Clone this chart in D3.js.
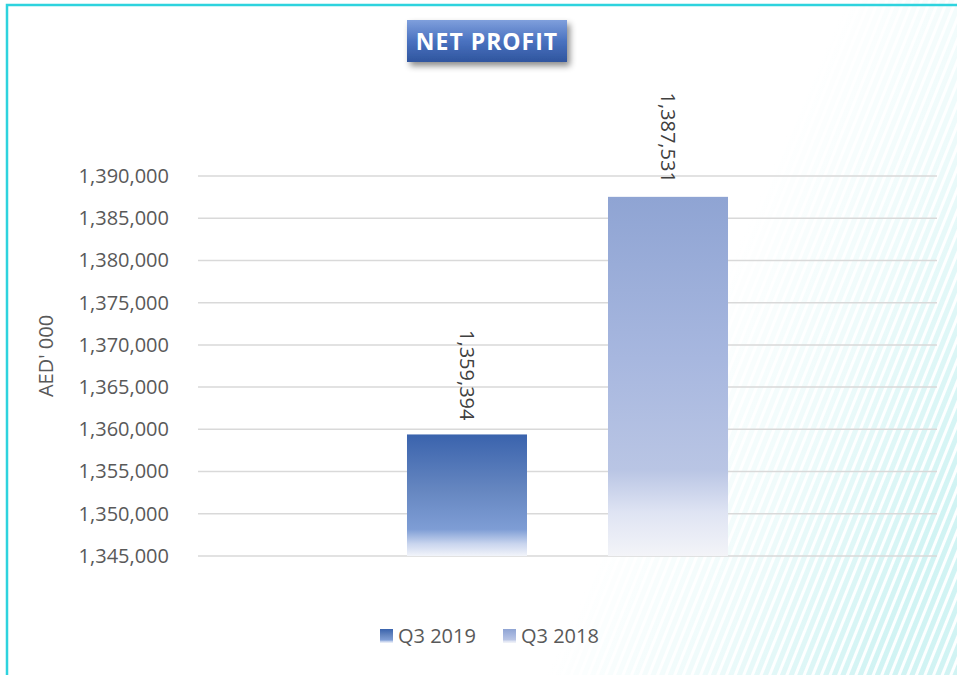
<!DOCTYPE html>
<html>
<head>
<meta charset="utf-8">
<script src="https://cdn.jsdelivr.net/npm/d3@7"></script>
<style>
  body { margin: 0; background: #fff; }
  svg { display: block; font-family: "Open Sans", "Noto Sans", sans-serif; }
</style>
</head>
<body>
<div id="chart"></div>
<script>
// chart data
var categories = ["Net Profit"];
var seriesNames = ["Q3 2019", "Q3 2018"];
var seriesValues = [1359394, 1387531];
var yTicks = [1345000, 1350000, 1355000, 1360000, 1365000, 1370000, 1375000, 1380000, 1385000, 1390000];
var titleText = "NET PROFIT";
var yLabel = "AED' 000";

var W = 957, H = 675;
var margin = {top: 176, right: 20, bottom: 119, left: 198};
var width = W - margin.left - margin.right,
    height = H - margin.top - margin.bottom;

var svg = d3.select("#chart").append("svg")
    .attr("width", W)
    .attr("height", H);

var defs = svg.append("defs");

// striped background in the lower right corner
var pat = defs.append("pattern")
    .attr("id", "stripes")
    .attr("patternUnits", "userSpaceOnUse")
    .attr("width", 8).attr("height", 8)
    .attr("patternTransform", "rotate(22)");
pat.append("rect").attr("width", 8).attr("height", 8).attr("fill", "#fdffff");
pat.append("rect").attr("width", 5).attr("height", 8).attr("fill", "#cff3f3");

// white veil over the stripes, fading out toward the corner
var fade = defs.append("linearGradient")
    .attr("id", "fade")
    .attr("gradientUnits", "userSpaceOnUse")
    .attr("x1", 700).attr("y1", 330)
    .attr("x2", 970).attr("y2", 450);
fade.append("stop").attr("offset", "0").attr("stop-color", "#fff").attr("stop-opacity", 1);
fade.append("stop").attr("offset", "0.5").attr("stop-color", "#fff").attr("stop-opacity", 0.65);
fade.append("stop").attr("offset", "1").attr("stop-color", "#fff").attr("stop-opacity", 0.05);

svg.append("rect").attr("width", W).attr("height", H).attr("fill", "url(#stripes)");
svg.append("rect").attr("width", W).attr("height", H).attr("fill", "url(#fade)");

// frame
svg.append("path")
    .attr("d", "M7," + (H + 5) + "V5H" + (W + 5))
    .attr("fill", "none")
    .attr("stroke", "#2ed3de")
    .attr("stroke-width", 2.5);

// bar gradients
var grads = [
  [["0", "#3a63ad"], ["0.45", "#6586c0"], ["0.78", "#7e9dd5"], ["0.9", "#c9d5ee"], ["1", "#f2f4fa"]],
  [["0", "#8fa4d3"], ["0.45", "#a7b7df"], ["0.76", "#b9c5e4"], ["0.88", "#dfe4f3"], ["1", "#f3f4f8"]]
];
grads.forEach(function(g, i){
  var lg = defs.append("linearGradient")
      .attr("id", "bar" + i)
      .attr("x1", 0).attr("y1", 0).attr("x2", 0).attr("y2", 1);
  g.forEach(function(s){ lg.append("stop").attr("offset", s[0]).attr("stop-color", s[1]); });
});

// title box gradient + shadow
var tg = defs.append("linearGradient")
    .attr("id", "titleGrad")
    .attr("x1", 0).attr("y1", 0).attr("x2", 0).attr("y2", 1);
tg.append("stop").attr("offset", "0").attr("stop-color", "#7f9fdc");
tg.append("stop").attr("offset", "0.5").attr("stop-color", "#4a72c0");
tg.append("stop").attr("offset", "1").attr("stop-color", "#2f559e");
var sh = defs.append("filter").attr("id", "shadow")
    .attr("x", "-20%").attr("y", "-30%").attr("width", "140%").attr("height", "170%");
sh.append("feDropShadow")
    .attr("dx", 3).attr("dy", 4).attr("stdDeviation", 3)
    .attr("flood-color", "#000").attr("flood-opacity", 0.45);

var g = svg.append("g")
    .attr("transform", "translate(" + margin.left + "," + margin.top + ")");

var yScale = d3.scaleLinear()
    .domain([1345000, 1390000])
    .range([height, 0]);

var x0 = d3.scaleBand()
    .domain(categories)
    .range([0, width])
    .paddingInner(0)
    .paddingOuter(0.651);

var x1 = d3.scaleBand()
    .domain(seriesNames)
    .range([0, x0.bandwidth()])
    .paddingInner(0.403);

// gridlines
g.append("g")
    .selectAll("line")
    .data(yTicks)
    .enter()
    .append("line")
      .attr("x1", 0).attr("x2", width)
      .attr("y1", function(d){ return yScale(d); })
      .attr("y2", function(d){ return yScale(d); })
      .attr("stroke", "#d9d9d9")
      .attr("stroke-width", 1.5);

// axis labels
var yAxis = g.append("g")
    .call(d3.axisLeft(yScale).tickValues(yTicks).tickFormat(d3.format(",")).tickSize(0).tickPadding(29))
    .attr("font-family", null)
    .attr("font-size", null);
yAxis.select(".domain").remove();
yAxis.selectAll("text")
    .attr("fill", "#595959")
    .style("font-size", "20px");

// bars
g.append("g")
    .selectAll("rect")
    .data(seriesValues)
    .enter()
    .append("rect")
      .attr("x", function(d, i){ return x0(categories[0]) + x1(seriesNames[i]); })
      .attr("y", function(d){ return yScale(d); })
      .attr("width", x1.bandwidth())
      .attr("height", function(d){ return height - yScale(d); })
      .attr("fill", function(d, i){ return "url(#bar" + i + ")"; });

// value labels, rotated
g.append("g")
    .selectAll("text")
    .data(seriesValues)
    .enter()
    .append("text")
      .attr("transform", function(d, i){
        var cx = x0(categories[0]) + x1(seriesNames[i]) + x1.bandwidth() / 2;
        return "translate(" + cx + "," + (yScale(d) - 14) + ") rotate(90)";
      })
      .attr("text-anchor", "end")
      .attr("dy", "0.35em")
      .attr("fill", "#404040")
      .style("font-size", "20px")
      .text(function(d){ return d3.format(",")(d); });

// y axis title
svg.append("text")
    .attr("transform", "translate(46," + (margin.top + height / 2 - 10) + ") rotate(-90)")
    .attr("text-anchor", "middle")
    .attr("dy", "0.35em")
    .attr("fill", "#595959")
    .style("font-size", "20px")
    .text(yLabel);

// title box
svg.append("rect")
    .attr("x", 407).attr("y", 20)
    .attr("width", 160).attr("height", 42)
    .attr("fill", "url(#titleGrad)")
    .attr("filter", "url(#shadow)");
svg.append("text")
    .attr("x", 487).attr("y", 42)
    .attr("text-anchor", "middle")
    .attr("dy", "0.35em")
    .attr("fill", "#fff")
    .style("font-size", "23px")
    .style("font-weight", "bold")
    .style("letter-spacing", "1px")
    .text(titleText);

// legend
var legend = svg.append("g")
    .selectAll("g")
    .data(seriesNames)
    .enter()
    .append("g")
      .attr("transform", function(d, i){ return "translate(" + (380 + i * 123) + ",629)"; });
legend.append("rect")
    .attr("width", 13).attr("height", 14)
    .attr("fill", function(d, i){ return "url(#bar" + i + ")"; });
legend.append("text")
    .attr("x", 18).attr("y", 7)
    .attr("dy", "0.35em")
    .attr("fill", "#595959")
    .style("font-size", "20px")
    .text(function(d){ return d; });
</script>
</body>
</html>
